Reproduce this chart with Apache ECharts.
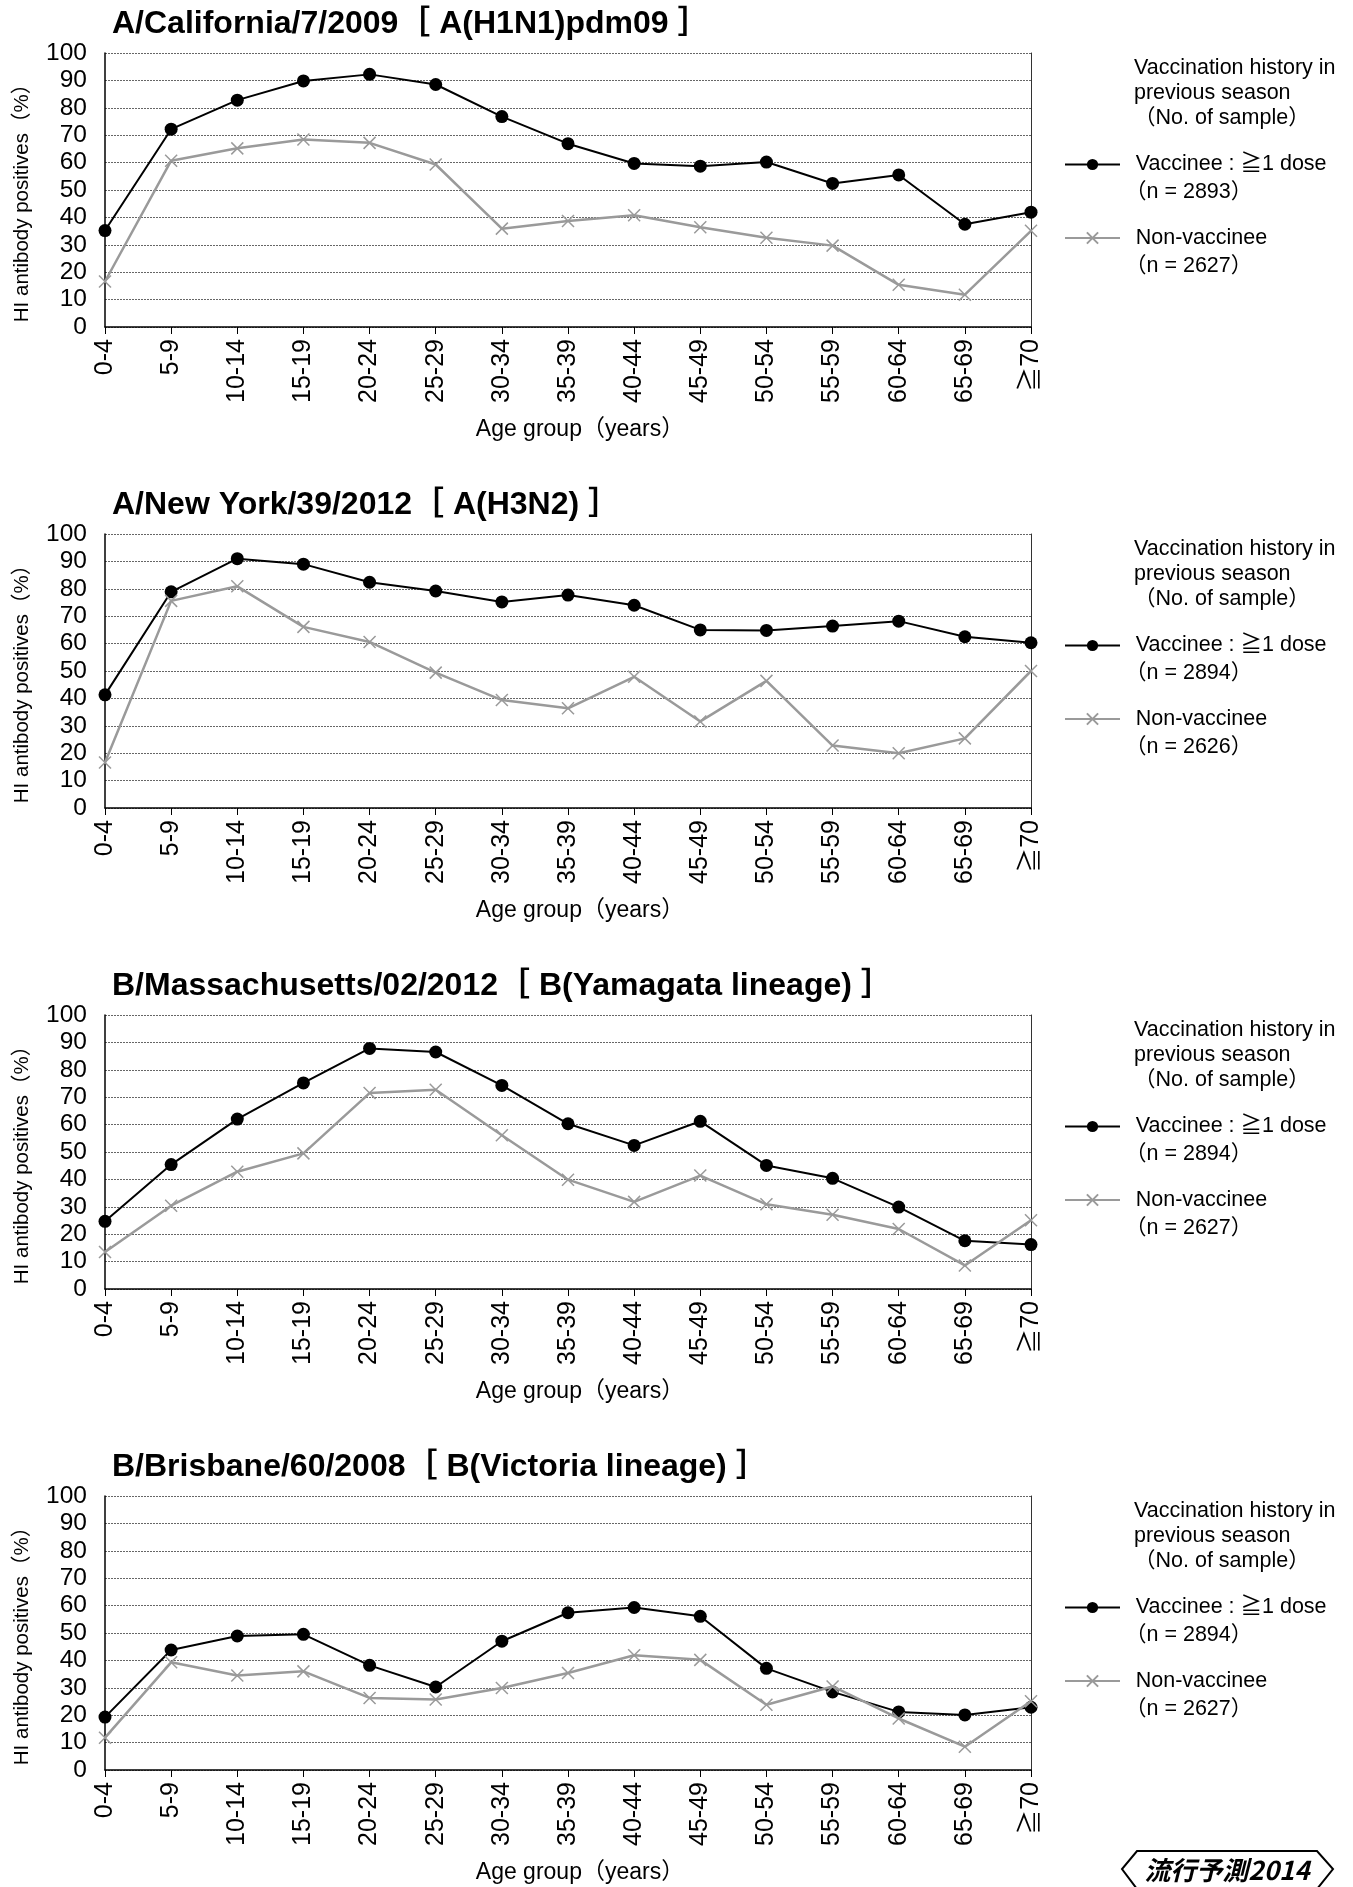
<!DOCTYPE html>
<html>
<head>
<meta charset="utf-8">
<script src="https://cdn.jsdelivr.net/npm/echarts@6/dist/echarts.min.js"></script>
<style>
html,body{margin:0;padding:0;background:#fff;}
#chart{width:1353px;height:1887px;}
</style>
</head>
<body>
<div id="chart"></div>
<script>
// ---------- data ----------
const categories = ['0-4','5-9','10-14','15-19','20-24','25-29','30-34','35-39','40-44','45-49','50-54','55-59','60-64','65-69','≧70'];

const chartTitles = [
  'A/California/7/2009［ A(H1N1)pdm09 ］',
  'A/New York/39/2012［ A(H3N2) ］',
  'B/Massachusetts/02/2012［ B(Yamagata lineage) ］',
  'B/Brisbane/60/2008［ B(Victoria lineage) ］'
];

const vaccineeN    = [2893, 2894, 2894, 2894];
const nonVaccineeN = [2627, 2626, 2627, 2627];

const californiaVaccinee    = [35.2, 72.2, 82.8, 89.8, 92.2, 88.5, 76.8, 66.9, 59.7, 58.7, 60.2, 52.4, 55.5, 37.5, 41.9];
const californiaNonVaccinee = [16.6, 60.7, 65.2, 68.4, 67.2, 59.3, 35.9, 38.7, 40.8, 36.4, 32.6, 29.7, 15.4, 11.8, 35.1];

const newYorkVaccinee       = [41.3, 78.9, 91.0, 89.0, 82.4, 79.2, 75.2, 77.7, 74.0, 65.0, 64.8, 66.4, 68.2, 62.5, 60.3];
const newYorkNonVaccinee    = [16.6, 75.6, 80.9, 66.1, 60.6, 49.4, 39.4, 36.4, 47.9, 31.6, 46.4, 22.8, 20.0, 25.4, 50.0];

const massachusettsVaccinee    = [24.7, 45.4, 62.0, 75.2, 87.8, 86.5, 74.3, 60.3, 52.4, 61.2, 45.1, 40.4, 29.9, 17.6, 16.2];
const massachusettsNonVaccinee = [13.5, 30.4, 42.8, 49.5, 71.5, 72.7, 56.1, 39.9, 31.8, 41.4, 30.9, 27.1, 21.9, 8.6, 25.1];

const brisbaneVaccinee    = [19.3, 43.8, 48.9, 49.5, 38.2, 30.3, 47.0, 57.4, 59.3, 56.1, 37.1, 28.5, 21.2, 20.1, 22.9];
const brisbaneNonVaccinee = [11.8, 39.3, 34.5, 36.0, 26.3, 25.7, 29.9, 35.4, 41.9, 40.2, 23.8, 30.5, 18.8, 8.5, 25.1];

const yTicks = [0, 10, 20, 30, 40, 50, 60, 70, 80, 90, 100];

const vaccineeSets    = [californiaVaccinee, newYorkVaccinee, massachusettsVaccinee, brisbaneVaccinee];
const nonVaccineeSets = [californiaNonVaccinee, newYorkNonVaccinee, massachusettsNonVaccinee, brisbaneNonVaccinee];

// ---------- layout / style ----------
const FONT = '"Liberation Sans", Arial, "Noto Sans CJK JP", sans-serif';
const PANEL_STEP = 481;
const GRID_TOP = 53;
const GRID_H = 274;
const GRID_LEFT = 105;
const GRID_RIGHT = 1353 - 1031;
const BLACK = '#000000';
const GRAY = '#9a9a9a';
const CROSS = 'path://M0,0L10,10M10,0L0,10';

const option = {
  backgroundColor: '#ffffff',
  animation: false,
  textStyle: { fontFamily: FONT },
  title: [], grid: [], xAxis: [], yAxis: [], series: [], legend: [],
  graphic: []
};

for (let k = 0; k < 4; k++) {
  const off = k * PANEL_STEP;
  const vName = 'Vaccinee : ≧1 dose\n（n = ' + vaccineeN[k] + '）';
  const nName = 'Non-vaccinee\n（n = ' + nonVaccineeN[k] + '）';

  option.title.push({
    text: chartTitles[k], left: 107, top: 3 + off,
    textStyle: { fontFamily: FONT, fontSize: 32, fontWeight: 'bold', color: BLACK }
  });
  option.title.push({
    text: 'Vaccination history in\nprevious season\n（No. of sample）',
    left: 1129, top: 51 + off,
    textStyle: { fontFamily: FONT, fontSize: 21.5, fontWeight: 'normal', color: BLACK, lineHeight: 25 }
  });

  option.grid.push({ left: GRID_LEFT, right: GRID_RIGHT, top: GRID_TOP + off, height: GRID_H, containLabel: false });

  option.xAxis.push({
    type: 'category', gridIndex: k, data: categories, boundaryGap: false,
    name: 'Age group（years）', nameLocation: 'middle', nameGap: 91,
    nameTextStyle: { fontFamily: FONT, fontSize: 23, color: BLACK, padding: [0, 0, 0, 24] },
    axisLine: { show: true, lineStyle: { color: BLACK, width: 1.5 } },
    axisTick: { show: true, length: 7, interval: 0, lineStyle: { color: BLACK, width: 1 } },
    axisLabel: { rotate: 90, interval: 0, margin: 12, fontSize: 25, color: BLACK, fontFamily: FONT },
    splitLine: { show: false }
  });

  option.yAxis.push({
    type: 'value', gridIndex: k, min: yTicks[0], max: yTicks[yTicks.length - 1], interval: yTicks[1] - yTicks[0],
    name: 'HI antibody positives（%）', nameLocation: 'middle', nameGap: 72, nameRotate: 90,
    nameTextStyle: { fontFamily: FONT, fontSize: 20.5, color: BLACK, padding: [0, 16, 0, 0] },
    axisLine: { show: true, lineStyle: { color: BLACK, width: 1.5 } },
    axisTick: { show: false },
    axisLabel: { fontSize: 24.5, color: BLACK, margin: 18, fontFamily: FONT },
    splitLine: { show: true, lineStyle: { color: '#666666', width: 1, type: [2, 1] } }
  });
  option.yAxis.push({
    type: 'value', gridIndex: k, position: 'right', min: 0, max: 100,
    axisLine: { show: true, lineStyle: { color: '#333333', width: 1 } },
    axisTick: { show: false }, axisLabel: { show: false }, splitLine: { show: false }
  });

  option.series.push({
    name: vName, type: 'line', xAxisIndex: k, yAxisIndex: 2 * k,
    data: vaccineeSets[k], symbol: 'circle', symbolSize: 13, showSymbol: true,
    lineStyle: { color: BLACK, width: 2 }, itemStyle: { color: BLACK }, z: 2
  });
  option.series.push({
    name: nName, type: 'line', xAxisIndex: k, yAxisIndex: 2 * k,
    data: nonVaccineeSets[k], symbol: CROSS, symbolSize: 12, showSymbol: true,
    lineStyle: { color: GRAY, width: 2.5 },
    itemStyle: { color: GRAY, borderColor: GRAY, borderWidth: 1.5 }, z: 3
  });

  option.legend.push({
    orient: 'vertical', left: 1059, top: 117.5 + off,
    itemWidth: 55, itemHeight: 14, itemGap: -10.5,
    selectedMode: false,
    data: [vName, nName],
    formatter: function (name) {
      const parts = name.split('\n');
      return '\n\u2002' + parts[0] + '\n' + parts[1];
    },
    textStyle: { fontFamily: FONT, fontSize: 21.5, color: BLACK, lineHeight: 28 }
  });
}

// logo at the bottom right
option.graphic.push(
  { type: 'polyline', silent: true,
    shape: { points: [[1137, 1889], [1122, 1869], [1137, 1851], [1317, 1851], [1333, 1869], [1317, 1889]] },
    style: { stroke: BLACK, lineWidth: 2, fill: null } },
  { type: 'text', silent: true, x: 1227, y: 1870,
    style: { text: '流行予測2014', fontFamily: '"Noto Sans CJK JP", sans-serif', fontSize: 26, fontWeight: 'bold', fontStyle: 'italic',
             fill: BLACK, align: 'center', verticalAlign: 'middle' } }
);

const chart = echarts.init(document.getElementById('chart'), null, { renderer: 'canvas' });
chart.setOption(option);
</script>
</body>
</html>
